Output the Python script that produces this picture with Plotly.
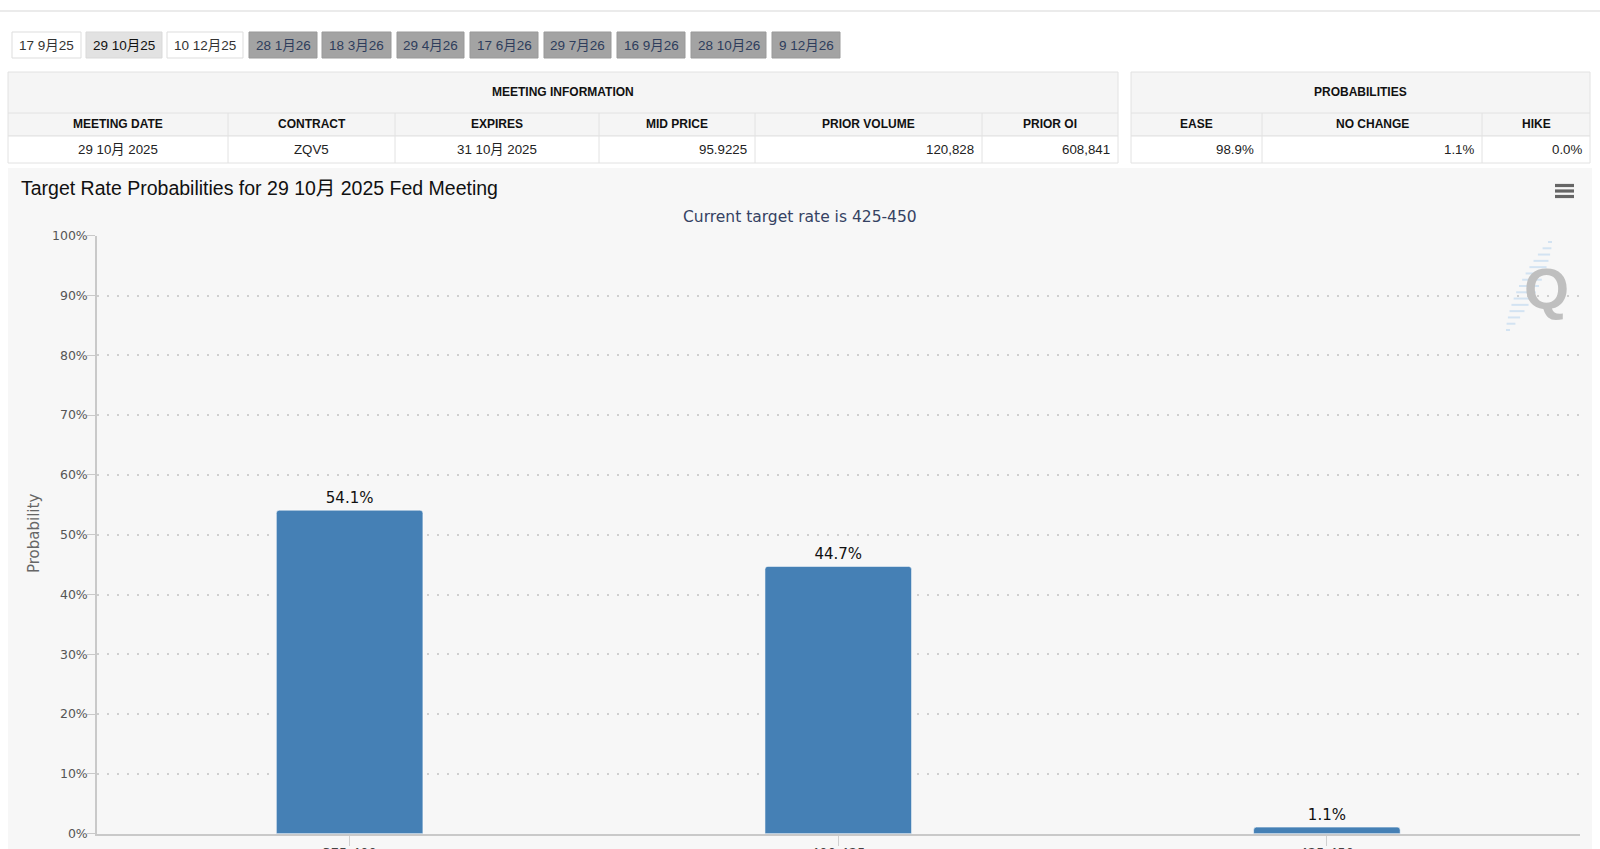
import math
import plotly.graph_objects as go

# ---------------- data ----------------
rate_ranges = ["375-400", "400-425", "425-450"]
probabilities = [54.1, 44.7, 1.1]

meeting_buttons = ["17 9月25", "29 10月25", "10 12月25", "28 1月26", "18 3月26", "29 4月26",
                   "17 6月26", "29 7月26", "16 9月26", "28 10月26", "9 12月26"]
meeting_headers = ["MEETING DATE", "CONTRACT", "EXPIRES", "MID PRICE", "PRIOR VOLUME", "PRIOR OI"]
meeting_values = ["29 10月 2025", "ZQV5", "31 10月 2025", "95.9225", "120,828", "608,841"]
prob_headers = ["EASE", "NO CHANGE", "HIKE"]
prob_values = ["98.9%", "1.1%", "0.0%"]

chart_title = "Target Rate Probabilities for 29 10月 2025 Fed Meeting"
chart_subtitle = "Current target rate is 425-450"

# ---------------- layout helpers ----------------
W, H = 1600, 849


def px(x):
    return x / W


def py(y):
    return 1 - y / H


ARIAL = "Liberation Sans, Arial, Noto Sans CJK SC, sans-serif"
CHART_FONT = "DejaVu Sans, Noto Sans, sans-serif"

shapes = []
annotations = []

# top separator line
shapes.append(dict(type="line", xref="paper", yref="paper", x0=0, x1=1, y0=py(11), y1=py(11),
                   line=dict(color="#e4e4e4", width=1.5), layer="below"))

# ---------------- buttons ----------------
btn_x = [(12, 81), (86, 162), (167, 243), (249, 317), (322, 391), (397, 464),
         (470, 538), (544, 611), (617, 685), (691, 766), (772, 840)]
for i, label in enumerate(meeting_buttons):
    x0, x1 = btn_x[i]
    if i == 1:
        fill, txt, border = "#e2e2e2", "#111111", "#d9d9d9"
    elif i in (0, 2):
        fill, txt, border = "#ffffff", "#333333", "#dddddd"
    else:
        fill, txt, border = "#a3a3a3", "#2e3d5c", "#999999"
    shapes.append(dict(type="rect", xref="paper", yref="paper", x0=px(x0), x1=px(x1),
                       y0=py(58), y1=py(32), fillcolor=fill, line=dict(color=border, width=1),
                       layer="below"))
    annotations.append(dict(x=px((x0 + x1) / 2), y=py(45), xref="paper", yref="paper",
                            text=label, showarrow=False, xanchor="center", yanchor="middle",
                            font=dict(family=ARIAL, size=13.5, color=txt)))

# ---------------- tables ----------------
BORDER = "#e2e2e2"
HEAD_BG = "#f5f5f5"


def draw_table(x_edges, title, headers, values, aligns):
    left, right = x_edges[0], x_edges[-1]
    shapes.append(dict(type="rect", xref="paper", yref="paper", x0=px(left), x1=px(right),
                       y0=py(136), y1=py(72), fillcolor=HEAD_BG, line=dict(color=BORDER, width=1),
                       layer="below"))
    shapes.append(dict(type="rect", xref="paper", yref="paper", x0=px(left), x1=px(right),
                       y0=py(163), y1=py(136), fillcolor="#ffffff", line=dict(color=BORDER, width=1),
                       layer="below"))
    shapes.append(dict(type="line", xref="paper", yref="paper", x0=px(left), x1=px(right),
                       y0=py(113), y1=py(113), line=dict(color=BORDER, width=1), layer="below"))
    for xe in x_edges[1:-1]:
        shapes.append(dict(type="line", xref="paper", yref="paper", x0=px(xe), x1=px(xe),
                           y0=py(163), y1=py(113), line=dict(color=BORDER, width=1), layer="below"))
    annotations.append(dict(x=px((left + right) / 2), y=py(92), xref="paper", yref="paper",
                            text="<b>" + title + "</b>", showarrow=False, xanchor="center",
                            yanchor="middle", font=dict(family=ARIAL, size=12, color="#111111")))
    for j, h in enumerate(headers):
        c0, c1 = x_edges[j], x_edges[j + 1]
        annotations.append(dict(x=px((c0 + c1) / 2), y=py(124.5), xref="paper", yref="paper",
                                text="<b>" + h + "</b>", showarrow=False, xanchor="center",
                                yanchor="middle", font=dict(family=ARIAL, size=12, color="#111111")))
        v = values[j]
        if aligns[j] == "center":
            xa, xv = "center", (c0 + c1) / 2
        else:
            xa, xv = "right", c1 - 6
        annotations.append(dict(x=px(xv), y=py(149.5), xref="paper", yref="paper",
                                text=v, showarrow=False, xanchor=xa, yanchor="middle",
                                font=dict(family=ARIAL, size=13.3, color="#222222")))


draw_table([8, 228, 395, 599, 755, 982, 1118], "MEETING INFORMATION", meeting_headers,
           meeting_values, ["center", "center", "center", "right", "right", "right"])
draw_table([1131, 1262, 1482, 1590], "PROBABILITIES", prob_headers, prob_values,
           ["right", "right", "right"])

# ---------------- chart container ----------------
shapes.append(dict(type="rect", xref="paper", yref="paper", x0=px(8), x1=px(1592),
                   y0=py(849), y1=py(168), fillcolor="#f7f7f7", line=dict(width=0), layer="below"))

annotations.append(dict(x=px(19), y=py(188), xref="paper", yref="paper", text=chart_title,
                        showarrow=False, xanchor="left", yanchor="middle",
                        font=dict(family=ARIAL, size=19.5, color="#111111")))
annotations.append(dict(x=px(800), y=py(217), xref="paper", yref="paper", text=chart_subtitle,
                        showarrow=False, xanchor="center", yanchor="middle",
                        font=dict(family=CHART_FONT, size=15.5, color="#354263")))
annotations.append(dict(x=px(34), y=py(534), xref="paper", yref="paper", text="Probability",
                        showarrow=False, textangle=-90, xanchor="center", yanchor="middle",
                        font=dict(family=CHART_FONT, size=15, color="#666666")))

# menu icon
for yy in (185.5, 191, 196.5):
    shapes.append(dict(type="line", xref="paper", yref="paper", x0=px(1555), x1=px(1574),
                       y0=py(yy), y1=py(yy), line=dict(color="#666666", width=3.2)))

# watermark
for i in range(15):
    t = i / 14
    cx = 1508 + t * 42
    cy = 330 - t * 88
    ln = 4 + 16 * math.sin(math.pi * t) ** 0.8
    shapes.append(dict(type="line", xref="paper", yref="paper", x0=px(cx - ln / 2), x1=px(cx + ln / 2),
                       y0=py(cy), y1=py(cy), line=dict(color="#d3e3f2", width=2), layer="below"))
annotations.append(dict(x=px(1546), y=py(288), xref="paper", yref="paper", text="<b>Q</b>",
                        showarrow=False, xanchor="center", yanchor="middle",
                        font=dict(family=ARIAL, size=58, color="#bfbfbf")))

# ---------------- bars ----------------
fig = go.Figure()
fig.add_trace(go.Bar(
    x=rate_ranges,
    y=probabilities,
    width=0.3,
    marker=dict(color="#4580b5", line=dict(color="rgba(255,255,255,0.55)", width=1), cornerradius=3),
    text=[f"{v}%" for v in probabilities],
    textposition="outside",
    textfont=dict(family=CHART_FONT, size=15, color="#111111"),
    cliponaxis=False,
    hoverinfo="skip",
))

fig.update_layout(
    width=W, height=H,
    margin=dict(l=0, r=0, t=0, b=0, autoexpand=False),
    paper_bgcolor="#ffffff",
    plot_bgcolor="rgba(0,0,0,0)",
    showlegend=False,
    shapes=shapes,
    annotations=annotations,
    xaxis=dict(
        domain=[px(97), px(1580)],
        type="category",
        range=[-0.517, 2.518],
        automargin=False,
        showgrid=False,
        showline=True, linecolor="#c9c9c9", linewidth=2,
        ticks="outside", ticklen=10, tickcolor="#d0d0d0", tickwidth=1,
        ticklabelstandoff=-4,
        tickfont=dict(family=CHART_FONT, size=13, color="#444444"),
        zeroline=False,
        fixedrange=True,
    ),
    yaxis=dict(
        domain=[py(833.7), py(235.7)],
        range=[0, 100],
        dtick=10,
        ticksuffix="%",
        automargin=False,
        showgrid=True, gridcolor="#cfcfcf", gridwidth=1.5, griddash="2px,8px",
        showline=True, linecolor="#c9c9c9", linewidth=1.5,
        ticks="outside", ticklen=8, tickcolor="#c9c9c9",
        ticklabelstandoff=-3,
        tickfont=dict(family=CHART_FONT, size=12.5, color="#555555"),
        zeroline=False,
        fixedrange=True,
    ),
)

fig.write_html("out.html", config={"displayModeBar": False})
